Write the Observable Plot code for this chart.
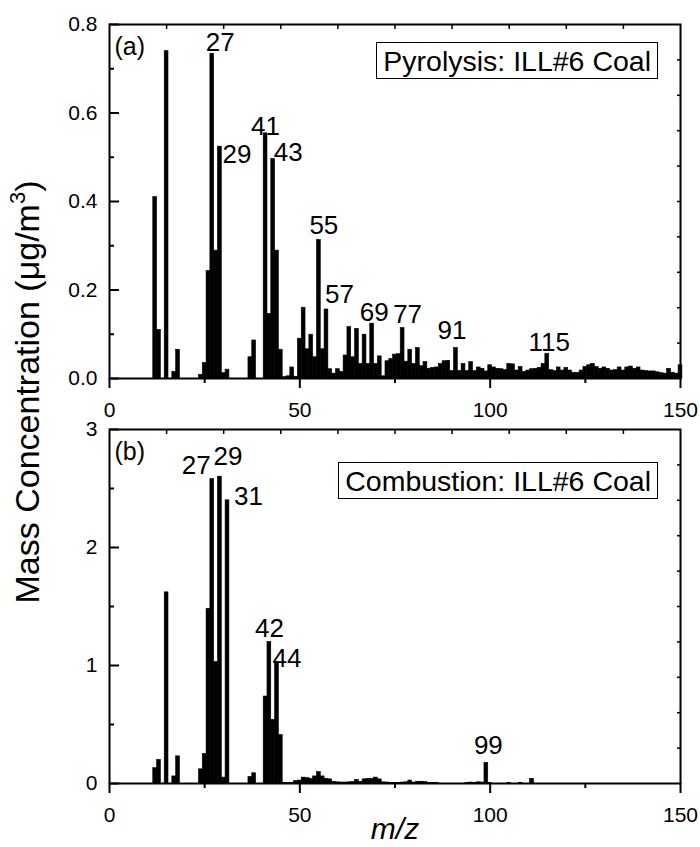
<!DOCTYPE html>
<html>
<head>
<meta charset="utf-8">
<script src="https://cdn.jsdelivr.net/npm/d3@7"></script>
<script src="https://cdn.jsdelivr.net/npm/@observablehq/plot@0.6"></script>
<style>
  html, body { margin: 0; padding: 0; background: white; }
  #wrap { position: relative; width: 700px; height: 847px; font-family: "Liberation Sans", Arial, sans-serif; overflow: hidden; }
  #panelA { position: absolute; left: 0; top: 0; }
  #panelB { position: absolute; left: 0; top: 420px; }
  .legend { position: absolute; border: 1.5px solid black; background: white; height: 35px; line-height: 36px; padding: 0 6px; font-size: 28.5px; white-space: nowrap; color: black; }
  #ytitle { position: absolute; left: 27px; top: 392px; transform: translate(-50%, -50%) rotate(-90deg); font-size: 34px; white-space: nowrap; color: black; }
  #ytitle sup { font-size: 22px; vertical-align: 14px; line-height: 0; }
</style>
</head>
<body>
<div id="wrap">
  <div id="panelA"></div>
  <div id="panelB"></div>
  <div class="legend" id="legA" style="right: 42px; top: 42px;"></div>
  <div class="legend" id="legB" style="right: 42px; top: 462px;"></div>
  <div id="ytitle">Mass Concentration (μg/m<sup>3</sup>)</div>
</div>
<script>
// ---------- data: panel (a) Pyrolysis ----------
const mzA = [12,13,15,17,18,24,25,26,27,28,29,30,31,37,38,41,42,43,44,45,46,47,48,49,50,
  51,52,53,54,55,56,57,58,59,60,61,62,63,64,65,66,67,68,69,70,71,72,73,74,75,76,77,78,79,80,
  81,82,83,84,85,86,87,88,89,90,91,92,93,94,95,96,97,98,99,100,101,102,103,104,105,106,107,108,109,110,
  111,112,113,114,115,116,117,118,119,120,121,122,123,124,125,126,127,128,129,130,131,132,133,134,135,136,137,138,139,140,
  141,142,143,144,145,146,147,148,149,150];
const valA = [0.41,0.11,0.74,0.015,0.065,0.008,0.035,0.243,0.734,0.289,0.524,0.012,0.02,0.048,0.086,0.554,0.146,0.496,0.289,0.065,0.003,0.005,0.025,0.004,0.09,
  0.16,0.066,0.099,0.048,0.313,0.066,0.156,0.021,0.011,0.021,0.015,0.052,0.116,0.048,0.112,0.033,0.099,0.033,0.124,0.033,0.05,0.005,0.039,0.044,0.054,0.055,0.114,0.038,0.065,0.033,
  0.069,0.028,0.037,0.022,0.024,0.025,0.033,0.039,0.04,0.017,0.069,0.017,0.033,0.017,0.037,0.017,0.025,0.022,0.016,0.03,0.025,0.022,0.021,0.019,0.033,0.032,0.018,0.026,0.015,0.018,
  0.021,0.022,0.024,0.033,0.056,0.019,0.017,0.025,0.018,0.024,0.018,0.013,0.013,0.018,0.026,0.03,0.033,0.026,0.022,0.025,0.022,0.018,0.019,0.025,0.018,0.025,0.027,0.022,0.025,0.018,
  0.017,0.016,0.016,0.014,0.012,0.011,0.022,0.013,0.011,0.03];

// ---------- data: panel (b) Combustion ----------
const mzB = [12,13,15,17,18,24,25,26,27,28,29,30,31,37,38,41,42,43,44,45,46,47,48,49,50,
  51,52,53,54,55,56,57,58,59,60,61,62,63,64,65,66,67,68,69,70,71,72,73,74,75,76,77,78,79,80,
  81,82,83,84,85,86,94,95,96,97,98,99,100,105,108,111];
const valB = [0.13,0.2,1.62,0.06,0.23,0.12,0.25,1.48,2.58,1.03,2.6,0.05,2.4,0.055,0.087,0.737,1.2,0.54,1.03,0.41,0.005,0.003,0.003,0.02,0.025,
  0.05,0.045,0.04,0.06,0.096,0.06,0.04,0.035,0.015,0.01,0.008,0.008,0.01,0.012,0.03,0.015,0.035,0.04,0.04,0.05,0.035,0.01,0.008,0.006,0.005,0.005,0.008,0.01,0.025,0.008,
  0.015,0.015,0.012,0.006,0.004,0.003,0.006,0.008,0.006,0.01,0.008,0.175,0.003,0.004,0.005,0.04];

// ---------- labels ----------
const peaksA = [27,29,41,43,55,57,69,77,91,115];
const peaksB = [27,29,31,42,44,99];
const tagA = "(a)", tagB = "(b)";
const legendA = "Pyrolysis: ILL#6 Coal";
const legendB = "Combustion: ILL#6 Coal";
const xTitle = "m/z";

// ---------- ticks ----------
const xMajor = [0,50,100,150];
const xMinor = [25,75,125];
const xTop = [15,30,45,60,75,90,105,120,135];
const yMajorA = [0,0.2,0.4,0.6,0.8];
const yMinorA = [0.1,0.3,0.5,0.7];
const yRightA = [0.08,0.16,0.24,0.32,0.4,0.48,0.56,0.64,0.72];
const yMajorB = [0,1,2,3];
const yMinorB = [0.5,1.5,2.5];
const yRightB = [0.3,0.6,0.9,1.2,1.5,1.8,2.1,2.4,2.7];

// ---------- label placement (pixels, style) ----------
const peakA_dx = [8,17,0,15,5,13,2,5,-4,2];
const peakA_dy = [-3,16,2,2,-6,-6,-3,-5,-9,-3];
const peakB_dx = [-16,8,21,0,10,2];
const peakB_dy = [-5,-12,5,-5,5,-9];

const FONT = '"Liberation Sans", Arial, sans-serif';

function toRows(mz, v) { return mz.map((m, i) => ({mz: m, v: v[i]})); }

function panel({rows, mz, val, peaks, pdx, pdy, yDomain, yMajor, yMinor, yRight, yFmt, tag, height, mTop, mBottom, extra}) {
  const peakRows = peaks.map((p, i) => ({mz: p, v: val[mz.indexOf(p)], t: String(p), dx: pdx[i], dy: pdy[i]}));
  const noText = () => "";
  return Plot.plot({
    width: 700,
    height,
    marginLeft: 109,
    marginRight: 20,
    marginTop: mTop,
    marginBottom: mBottom,
    style: {fontFamily: FONT, color: "black", background: "white", overflow: "visible"},
    x: {domain: [0, 150]},
    y: {domain: yDomain},
    marks: [
      Plot.rectY(rows, {x1: d => d.mz - 0.5, x2: d => d.mz + 0.5, y: "v", fill: "black", stroke: "black", strokeWidth: 0.6}),
      Plot.frame({strokeWidth: 2, stroke: "black"}),
      Plot.axisX({ticks: xMajor, tickSize: 10, tickPadding: 14, tickFormat: d3.format("d"), fontSize: 21, strokeWidth: 2, label: null}),
      Plot.axisX({ticks: xMinor, tickSize: 5, tickFormat: noText, strokeWidth: 2, label: null}),
      Plot.axisX({anchor: "top", ticks: xTop, tickSize: -4, tickFormat: noText, strokeWidth: 1.5, label: null}),
      Plot.axisY({ticks: yMajor, tickSize: 0, tickPadding: 12, tickFormat: yFmt, fontSize: 21, label: null}),
      Plot.axisY({ticks: yMajor, tickSize: -10, tickFormat: noText, strokeWidth: 2, label: null}),
      Plot.axisY({ticks: yMinor, tickSize: -5, tickFormat: noText, strokeWidth: 2, label: null}),
      Plot.axisY({anchor: "right", ticks: yRight, tickSize: -4, tickFormat: noText, strokeWidth: 1.5, label: null}),
      ...peakRows.map(r => Plot.text([r], {x: "mz", y: "v", text: "t", dx: r.dx, dy: r.dy, textAnchor: "middle", lineAnchor: "bottom", fontSize: 26, fill: "black"})),
      Plot.text([tag], {frameAnchor: "top-left", text: d => d, dx: 5, dy: 30, textAnchor: "start", lineAnchor: "bottom", fontSize: 25, fill: "black"}),
      ...(extra || [])
    ]
  });
}

const rowsA = toRows(mzA, valA);
const rowsB = toRows(mzB, valB);

document.getElementById("panelA").append(panel({
  rows: rowsA, mz: mzA, val: valA, peaks: peaksA, pdx: peakA_dx, pdy: peakA_dy,
  yDomain: [0, 0.8], yMajor: yMajorA, yMinor: yMinorA, yRight: yRightA, yFmt: d3.format(".1f"),
  tag: tagA, height: 420, mTop: 24, mBottom: 42
}));

document.getElementById("panelB").append(panel({
  rows: rowsB, mz: mzB, val: valB, peaks: peaksB, pdx: peakB_dx, pdy: peakB_dy,
  yDomain: [0, 3], yMajor: yMajorB, yMinor: yMinorB, yRight: yRightB, yFmt: d3.format("d"),
  tag: tagB, height: 427, mTop: 9, mBottom: 64,
  extra: [Plot.text([xTitle], {frameAnchor: "bottom", text: d => d, dy: 55, textAnchor: "middle", lineAnchor: "bottom", fontSize: 30, fontStyle: "italic", fill: "black"})]
}));

document.getElementById("legA").textContent = legendA;
document.getElementById("legB").textContent = legendB;
</script>
</body>
</html>
